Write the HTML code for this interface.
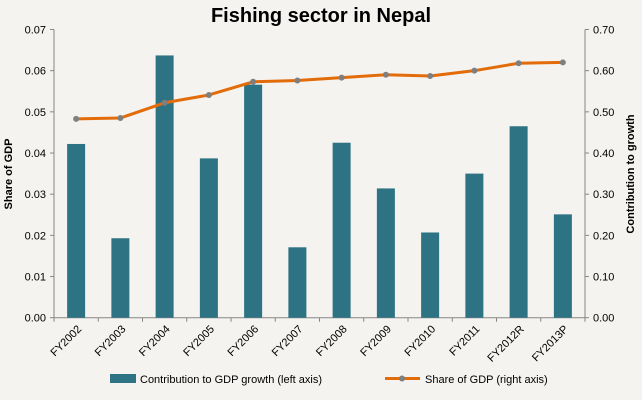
<!DOCTYPE html>
<html><head><meta charset="utf-8"><style>
body{margin:0;background:#f4f3f0;font-family:"Liberation Sans",sans-serif}
svg{display:block}
</style></head><body>
<svg width="642" height="400" id="c">
<rect width="642" height="400" fill="#f4f3f0"/>
<text x="321" y="22" text-anchor="middle" font-size="20" font-weight="bold" fill="#000">Fishing sector in Nepal</text>
<text transform="translate(12,174) rotate(-90)" text-anchor="middle" font-size="11" font-weight="bold">Share of GDP</text>
<text transform="translate(634,174) rotate(-90)" text-anchor="middle" font-size="11" font-weight="bold">Contribution to growth</text>
<g id="g"></g>
<rect x="110" y="374" width="26" height="9" fill="#2e7383"/>
<text x="140" y="383" font-size="11">Contribution to GDP growth (left axis)</text>
<line x1="385" y1="378.5" x2="420" y2="378.5" stroke="#e36c0a" stroke-width="3"/>
<circle cx="402" cy="378.5" r="3" fill="#7f7f7f"/>
<text x="425" y="383" font-size="11">Share of GDP (right axis)</text>
</svg>
<script>
const categories=["FY2002","FY2003","FY2004","FY2005","FY2006","FY2007","FY2008","FY2009","FY2010","FY2011","FY2012R","FY2013P"];
const barValues=[0.0422,0.0193,0.0637,0.0387,0.0566,0.0171,0.0425,0.0314,0.0207,0.0350,0.0465,0.0251];
const lineValues=[0.483,0.485,0.522,0.541,0.573,0.576,0.583,0.590,0.587,0.600,0.618,0.620];
const leftTicks=["0.00","0.01","0.02","0.03","0.04","0.05","0.06","0.07"];
const rightTicks=["0.00","0.10","0.20","0.30","0.40","0.50","0.60","0.70"];
const L=54,R=585,T=29.5,B=317.7,NS="http://www.w3.org/2000/svg",g=document.getElementById('g');
const cw=(R-L)/categories.length;
const yL=v=>B-(v/0.07)*(B-T), yR=v=>B-(v/0.7)*(B-T), xC=i=>L+cw*(i+0.5);
function mk(t,a){const e=document.createElementNS(NS,t);for(const k in a)e.setAttribute(k,a[k]);g.appendChild(e);return e;}
let e;
e=mk('line',{x1:L,y1:T,x2:L,y2:B,stroke:'#868686'});


e=mk('line',{x1:R,y1:T,x2:R,y2:B,stroke:'#868686'});


e=mk('line',{x1:L,y1:B,x2:R,y2:B,stroke:'#868686'});


leftTicks.forEach((t,i)=>{const y=yL(i*0.01);
 mk('line',{x1:L-4,y1:y,x2:L,y2:y,stroke:'#868686'});
 e=mk('text',{x:L-8,y:y+4,'text-anchor':'end','font-size':11});e.textContent=t;
 
 });
rightTicks.forEach((t,i)=>{const y=yR(i*0.1);
 mk('line',{x1:R,y1:y,x2:R+4,y2:y,stroke:'#868686'});
 e=mk('text',{x:R+8,y:y+4,'font-size':11});e.textContent=t;
 
 });
for(let i=0;i<=categories.length;i++){const x=L+cw*i;mk('line',{x1:x,y1:B,x2:x,y2:B+4,stroke:'#868686'});}
barValues.forEach((v,i)=>{
 e=mk('rect',{x:xC(i)-9,y:yL(v),width:18,height:B-yL(v),fill:'#2e7383'});
 
 });
categories.forEach((c,i)=>{const x=xC(i)+6,y=B+12;
 e=mk('text',{x:x,y:y,'text-anchor':'end','font-size':11,transform:`rotate(-45 ${x} ${y})`});e.textContent=c;
 
 });
e=mk('polyline',{points:lineValues.map((v,i)=>xC(i)+','+yR(v)).join(' '),fill:'none',stroke:'#e36c0a','stroke-width':3,'stroke-linejoin':'round'});


lineValues.forEach((v,i)=>{
 e=mk('circle',{cx:xC(i),cy:yR(v),r:3,fill:'#7f7f7f'});
 
 });
</script>
</body></html>
